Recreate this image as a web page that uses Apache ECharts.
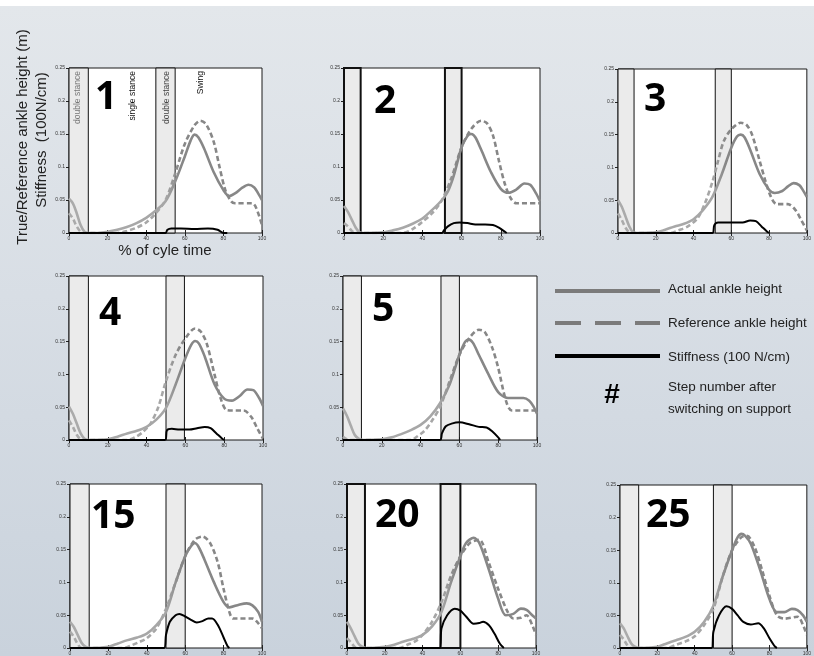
<!DOCTYPE html>
<html><head><meta charset="utf-8">
<script src="https://cdn.jsdelivr.net/npm/echarts@6/dist/echarts.min.js"></script>
<style>
html,body{margin:0;padding:0;width:814px;height:656px;overflow:hidden;
background:linear-gradient(to bottom,#ffffff 0px,#ffffff 6px,#e3e7eb 6px,#d8dee5 45%,#c9d2dc 100%);}
#c{width:814px;height:656px;}
</style>
</head><body><div id="c"></div>
<script>
// ---------- data ----------
const steps = ['1','2','3','4','5','15','20','25'];
const xTicks = [0,20,40,60,80,100];
const yTickLabels = ['0','0.05','0.1','0.15','0.2','0.25'];
const firstDoubleEnd   = [10, 8.5, 8.5, 10, 9.5, 10, 9.5, 10];
const secondDoubleStart= [45, 51.5, 51.5, 50, 50.5, 50, 49.5, 50];
const secondDoubleEnd  = [55, 60, 60, 59.5, 60, 60, 60, 60];
const phaseNames = ['double stance','single stance','double stance','Swing'];
const phasePos = [4.4, 33, 50.6, 68];

const actual1=[[0,0.052],[2,0.045],[4,0.03],[6,0.012],[8,0.002],[10,0],[15,0],[20,0.002],[25,0.005],[30,0.009],[35,0.015],[40,0.023],[45,0.034],[50,0.048],[55,0.078],[60,0.116],[63,0.14],[65,0.149],[67,0.145],[70,0.128],[75,0.092],[80,0.065],[83,0.056],[86,0.06],[90,0.069],[93,0.073],[96,0.069],[98,0.06],[100,0.05]];
const ref1=[[0,0.03],[2,0.022],[4,0.01],[6,0.002],[8,0],[25,0],[30,0.003],[35,0.008],[40,0.016],[45,0.03],[50,0.05],[55,0.09],[60,0.135],[65,0.163],[68,0.17],[71,0.165],[75,0.138],[78,0.1],[81,0.065],[84,0.048],[86,0.045],[95,0.045],[97,0.038],[100,0.012]];
const stiff1=[[0,0],[50,0],[51,0.005],[53,0.007],[58,0.007],[65,0.006],[72,0.007],[77,0.005],[80,0],[82,0]];

const actual2=[[0,0.041],[2,0.032],[4,0.02],[6,0.008],[8,0.001],[10,0],[20,0.001],[25,0.004],[30,0.008],[35,0.014],[40,0.022],[45,0.035],[50,0.05],[53,0.063],[56,0.087],[60,0.13],[63,0.147],[65,0.15],[67,0.145],[70,0.126],[75,0.092],[80,0.067],[84,0.061],[88,0.066],[92,0.075],[95,0.073],[98,0.06],[100,0.048]];
const ref2=[[0,0.015],[2,0.01],[4,0.003],[6,0],[30,0],[35,0.006],[40,0.017],[45,0.03],[50,0.05],[55,0.085],[60,0.13],[65,0.158],[70,0.17],[73,0.166],[76,0.148],[79,0.11],[82,0.075],[85,0.053],[88,0.045],[100,0.045]];
const stiff2=[[0,0],[50,0],[51,0.004],[53,0.01],[56,0.015],[59,0.016],[63,0.015],[67,0.013],[72,0.013],[76,0.012],[79,0.008],[82,0.002],[83,0]];

const actual3=[[0,0.05],[2,0.04],[4,0.025],[6,0.01],[8,0.001],[10,0],[20,0.001],[25,0.005],[30,0.01],[35,0.014],[40,0.021],[45,0.035],[50,0.055],[55,0.09],[60,0.13],[63,0.147],[65,0.15],[67,0.146],[70,0.127],[75,0.09],[80,0.066],[83,0.061],[87,0.064],[90,0.071],[93,0.076],[96,0.073],[98,0.065],[100,0.055]];
const ref3=[[0,0.03],[2,0.02],[4,0.008],[6,0.001],[8,0],[28,0],[32,0.004],[37,0.01],[42,0.022],[46,0.045],[50,0.078],[53,0.11],[56,0.14],[60,0.158],[65,0.168],[68,0.165],[71,0.15],[75,0.11],[78,0.08],[81,0.055],[84,0.044],[90,0.044],[94,0.035],[97,0.02],[100,0.004]];
const stiff3=[[0,0],[50,0],[51,0.012],[53,0.016],[57,0.016],[62,0.016],[66,0.016],[70,0.019],[73,0.018],[76,0.01],[79,0.002],[80,0]];

const actual4=[[0,0.051],[2,0.04],[4,0.025],[6,0.01],[8,0.002],[10,0],[20,0.001],[25,0.005],[30,0.01],[35,0.014],[40,0.02],[45,0.031],[50,0.049],[55,0.085],[60,0.125],[63,0.145],[65,0.151],[67,0.147],[70,0.127],[75,0.085],[80,0.063],[84,0.06],[88,0.067],[92,0.077],[95,0.076],[98,0.064],[100,0.052]];
const ref4=[[0,0.03],[2,0.02],[4,0.008],[6,0.001],[8,0],[30,0],[34,0.004],[38,0.012],[42,0.025],[46,0.05],[50,0.09],[55,0.13],[60,0.155],[65,0.17],[68,0.165],[71,0.147],[75,0.1],[78,0.065],[81,0.046],[84,0.045],[90,0.045],[94,0.035],[97,0.018],[100,0.002]];
const stiff4=[[0,0],[49.5,0],[50.5,0.015],[53,0.017],[57,0.016],[62,0.016],[66,0.018],[70,0.02],[73,0.018],[76,0.01],[79,0.002],[80,0]];

const actual5=[[0,0.048],[2,0.037],[4,0.022],[6,0.008],[8,0.002],[10,0],[20,0.001],[25,0.004],[30,0.009],[35,0.015],[40,0.023],[45,0.036],[50,0.056],[55,0.085],[60,0.13],[63,0.15],[65,0.153],[67,0.148],[70,0.13],[75,0.1],[80,0.073],[85,0.064],[89,0.064],[93,0.064],[96,0.06],[98,0.052],[100,0.04]];
const ref5=[[0,0.005],[3,0],[35,0],[38,0.005],[42,0.014],[46,0.03],[50,0.05],[55,0.09],[60,0.13],[65,0.155],[70,0.168],[73,0.165],[77,0.14],[80,0.11],[84,0.06],[87,0.045],[100,0.045]];
const stiff5=[[0,0],[50,0],[51,0.01],[53,0.021],[56,0.025],[60,0.027],[65,0.024],[70,0.02],[74,0.019],[77,0.013],[80,0.004],[81,0]];

const actual15=[[0,0.04],[2,0.032],[4,0.02],[6,0.008],[8,0.002],[10,0],[20,0.002],[25,0.007],[30,0.012],[35,0.016],[40,0.022],[45,0.035],[50,0.055],[55,0.1],[60,0.14],[63,0.155],[65,0.16],[67,0.154],[70,0.135],[75,0.1],[80,0.07],[83,0.062],[88,0.066],[92,0.068],[95,0.065],[98,0.055],[100,0.04]];
const ref15=[[0,0.025],[2,0.017],[4,0.006],[6,0],[28,0],[32,0.004],[36,0.009],[40,0.015],[45,0.03],[50,0.06],[55,0.1],[60,0.14],[65,0.165],[69,0.17],[73,0.16],[77,0.13],[80,0.09],[83,0.055],[85,0.045],[95,0.045],[98,0.038],[100,0.03]];
const stiff15=[[0,0],[49,0],[50,0.02],[52,0.04],[55,0.05],[57,0.052],[60,0.048],[63,0.043],[66,0.039],[69,0.041],[72,0.045],[74,0.045],[77,0.035],[80,0.016],[82,0.003],[83,0]];

const actual20=[[0,0.04],[2,0.03],[4,0.018],[6,0.007],[8,0.002],[10,0],[20,0.002],[25,0.005],[30,0.01],[35,0.014],[40,0.02],[45,0.033],[50,0.055],[55,0.1],[60,0.14],[63,0.16],[67,0.168],[70,0.16],[75,0.12],[80,0.075],[84,0.05],[88,0.052],[92,0.06],[95,0.058],[98,0.05],[100,0.045]];
const ref20=[[0,0.015],[2,0.009],[4,0.002],[6,0],[28,0],[32,0.005],[36,0.01],[40,0.02],[45,0.04],[50,0.07],[55,0.11],[60,0.14],[65,0.16],[70,0.165],[75,0.13],[80,0.09],[85,0.055],[88,0.045],[92,0.046],[95,0.05],[98,0.035],[100,0.02]];
const stiff20=[[0,0],[49,0],[50,0.03],[53,0.05],[57,0.06],[60,0.057],[63,0.048],[67,0.037],[70,0.038],[72,0.04],[75,0.035],[78,0.022],[81,0.006],[83,0]];

const actual25=[[0,0.038],[2,0.03],[4,0.018],[6,0.007],[8,0.002],[10,0],[20,0.002],[25,0.007],[30,0.012],[35,0.017],[40,0.025],[45,0.04],[50,0.065],[55,0.11],[60,0.15],[63,0.17],[65,0.175],[67,0.172],[70,0.16],[75,0.12],[80,0.075],[84,0.055],[88,0.055],[92,0.06],[95,0.058],[98,0.05],[100,0.04]];
const ref25=[[0,0.02],[2,0.013],[4,0.004],[6,0],[25,0],[30,0.005],[35,0.01],[40,0.018],[45,0.035],[50,0.06],[55,0.11],[60,0.15],[65,0.17],[68,0.172],[72,0.155],[76,0.12],[80,0.08],[84,0.05],[88,0.045],[95,0.048],[98,0.035],[100,0.02]];
const stiff25=[[0,0],[49,0],[50,0.025],[53,0.05],[57,0.064],[60,0.06],[63,0.05],[66,0.04],[70,0.036],[74,0.038],[77,0.03],[80,0.015],[83,0.002],[84,0]];

const actualSets=[actual1,actual2,actual3,actual4,actual5,actual15,actual20,actual25];
const refSets=[ref1,ref2,ref3,ref4,ref5,ref15,ref20,ref25];
const stiffSets=[stiff1,stiff2,stiff3,stiff4,stiff5,stiff15,stiff20,stiff25];

// ---------- layout ----------
const boxes=[
 {left:69,top:68,width:193,height:165},
 {left:344,top:68,width:196,height:165},
 {left:618,top:69,width:194,height:164},
 {left:69,top:276,width:194,height:164},
 {left:343,top:276,width:194,height:164},
 {left:70,top:484,width:192,height:164},
 {left:347,top:484,width:189,height:164},
 {left:620,top:485,width:191,height:163}
];
const numOff=[[26,30],[30,34],[26,31],[30,38],[29,34],[21,33],[28,32],[26,31]];

const chart=echarts.init(document.getElementById('c'),null,{renderer:'canvas'});
const FONT='Liberation Sans, Arial, sans-serif';
function grayGrad(){
  return new echarts.graphic.LinearGradient(0,0,1,0,[
    {offset:0,color:'#ababab'},{offset:0.5,color:'#a6a6a6'},
    {offset:0.57,color:'#878787'},{offset:1,color:'#878787'}]);
}
const grids=[],xAxes=[],yAxes=[],series=[];
boxes.forEach((b,i)=>{
  grids.push({left:b.left,top:b.top,width:b.width,height:b.height,show:true,
    backgroundColor:'#ffffff',borderColor:'#1a1a1a',borderWidth:1});
  const tick={inside:true,length:3,lineStyle:{color:'#222',width:1}};
  xAxes.push({gridIndex:i,type:'value',min:xTicks[0],max:xTicks[xTicks.length-1],interval:xTicks[1]-xTicks[0],
    position:'bottom',axisLine:{show:false},axisTick:tick,splitLine:{show:false},
    axisLabel:{fontSize:5,color:'#333',margin:3,fontFamily:FONT}});
  xAxes.push({gridIndex:i,type:'value',min:xTicks[0],max:xTicks[xTicks.length-1],interval:xTicks[1]-xTicks[0],
    position:'top',axisLine:{show:false},axisTick:tick,splitLine:{show:false},axisLabel:{show:false}});
  yAxes.push({gridIndex:i,type:'value',min:0,max:0.25,interval:0.05,position:'left',
    axisLine:{show:false},axisTick:tick,splitLine:{show:false},
    axisLabel:{fontSize:5,color:'#333',margin:4,fontFamily:FONT,
      formatter:v=>yTickLabels[Math.round(v/0.05)]}});
  yAxes.push({gridIndex:i,type:'value',min:0,max:0.25,interval:0.05,position:'right',
    axisLine:{show:false},axisTick:tick,splitLine:{show:false},axisLabel:{show:false}});
  const thick=(i===1||i===6)?2:1;
  series.push({type:'line',xAxisIndex:2*i,yAxisIndex:2*i,data:refSets[i],showSymbol:false,
    smooth:0.3,z:2,silent:true,
    lineStyle:{color:grayGrad(),width:2.6,type:[5,3]},
    markArea:{silent:true,itemStyle:{color:'#ebebeb',borderColor:'#111',borderWidth:thick},
      data:[[{xAxis:0},{xAxis:firstDoubleEnd[i]}],[{xAxis:secondDoubleStart[i]},{xAxis:secondDoubleEnd[i]}]]}});
  series.push({type:'line',xAxisIndex:2*i,yAxisIndex:2*i,data:actualSets[i],showSymbol:false,
    smooth:0.3,z:3,silent:true,lineStyle:{color:grayGrad(),width:2.6}});
  series.push({type:'line',xAxisIndex:2*i,yAxisIndex:2*i,data:stiffSets[i],showSymbol:false,
    smooth:0.3,z:4,silent:true,lineStyle:{color:'#000',width:2}});
});

chart.setOption({animation:false,backgroundColor:'transparent',
  grid:grids,xAxis:xAxes,yAxis:yAxes,series:series});

// ---------- annotations ----------
const g=[];
g.push({type:'text',x:23,y:137,rotation:Math.PI/2,style:{text:'True/Reference ankle height (m)',
  fontSize:15,fontFamily:FONT,fill:'#222',align:'center',verticalAlign:'middle'}});
g.push({type:'text',x:42,y:140,rotation:Math.PI/2,style:{text:'Stiffness  (100N/cm)',
  fontSize:15,fontFamily:FONT,fill:'#222',align:'center',verticalAlign:'middle'}});
g.push({type:'text',x:165,y:251,style:{text:'% of cyle time',fontSize:15,fontFamily:FONT,
  fill:'#222',align:'center',verticalAlign:'middle'}});
boxes.forEach((b,i)=>{
  g.push({type:'text',x:b.left+numOff[i][0],y:b.top+numOff[i][1],z:50,style:{text:steps[i],
    fontSize:39,fontWeight:'bold',fontFamily:'Open Sans, sans-serif',fill:'#000',align:'left',verticalAlign:'middle'}});
});
const phaseColors=['#777','#111','#444','#111'];
phaseNames.forEach((t,k)=>{
  const p=chart.convertToPixel({xAxisIndex:0,yAxisIndex:0},[phasePos[k],0.25]);
  g.push({type:'text',x:p[0],y:p[1]+3,rotation:Math.PI/2,z:50,style:{text:t,fontSize:8.5,
    fontFamily:FONT,fill:phaseColors[k],align:'right',verticalAlign:'middle'}});
});
// legend
const lx1=555,lx2=660,tx=668;
g.push({type:'line',shape:{x1:lx1,y1:291,x2:lx2,y2:291},style:{stroke:'#7b7b7b',lineWidth:4}});
g.push({type:'line',shape:{x1:lx1,y1:323,x2:lx2,y2:323},style:{stroke:'#7b7b7b',lineWidth:4,lineDash:[26,14]}});
g.push({type:'line',shape:{x1:lx1,y1:356,x2:lx2,y2:356},style:{stroke:'#000',lineWidth:4}});
const legTexts=[['Actual ankle height',289],['Reference ankle height',323],['Stiffness (100 N/cm)',357],
  ['Step number after',387],['switching on support',409]];
legTexts.forEach(t=>g.push({type:'text',x:tx,y:t[1],style:{text:t[0],fontSize:13.5,fontFamily:FONT,
  fill:'#222',align:'left',verticalAlign:'middle'}}));
g.push({type:'text',x:612,y:395,style:{text:'#',fontSize:28,fontWeight:'bold',fontFamily:FONT,
  fill:'#000',align:'center',verticalAlign:'middle'}});
chart.setOption({graphic:g});
</script></body></html>
